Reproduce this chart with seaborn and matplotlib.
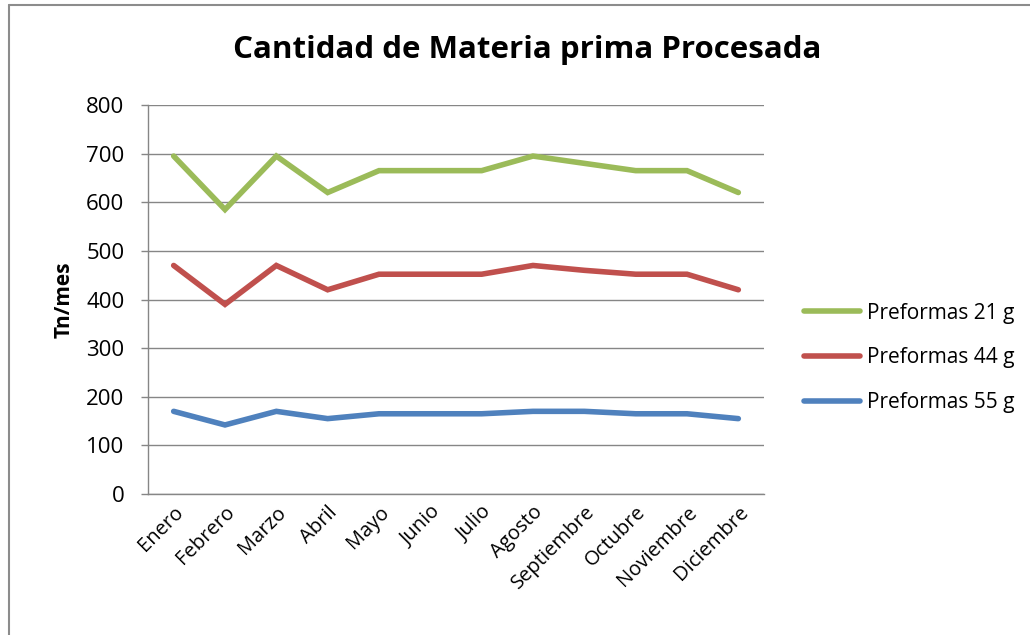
import matplotlib
matplotlib.use("Agg")
import matplotlib.pyplot as plt
import seaborn as sns
import pandas as pd
from matplotlib.lines import Line2D

meses = ["Enero", "Febrero", "Marzo", "Abril", "Mayo", "Junio", "Julio",
         "Agosto", "Septiembre", "Octubre", "Noviembre", "Diciembre"]
pref_21 = [695, 585, 695, 620, 665, 665, 665, 695, 680, 665, 665, 620]
pref_44 = [470, 390, 470, 420, 452, 452, 452, 470, 460, 452, 452, 420]
pref_55 = [170, 142, 170, 155, 165, 165, 165, 170, 170, 165, 165, 155]
series = ["Preformas 21 g", "Preformas 44 g", "Preformas 55 g"]
colores = ["#9BBB59", "#C0504D", "#4F81BD"]
y_ticks = [0, 100, 200, 300, 400, 500, 600, 700, 800]

df = pd.DataFrame({"Mes": meses, series[0]: pref_21,
                   series[1]: pref_44, series[2]: pref_55})
largo = df.melt(id_vars="Mes", var_name="Serie", value_name="Valor")
largo["pos"] = largo["Mes"].map({m: i for i, m in enumerate(meses)})

sns.set_style("white")
plt.rcParams["font.family"] = ["Open Sans", "DejaVu Sans"]
plt.rcParams["text.color"] = "black"
plt.rcParams["axes.labelcolor"] = "black"
plt.rcParams["xtick.color"] = "black"
plt.rcParams["ytick.color"] = "black"

fig = plt.figure(figsize=(10.30, 6.35), dpi=100)
ax = fig.add_axes([148 / 1030, 1 - 494 / 635, (764 - 148) / 1030, (494 - 105) / 635])

sns.lineplot(data=largo, x="pos", y="Valor", hue="Serie", hue_order=series,
             palette=colores, linewidth=4, ax=ax, legend=False,
             solid_capstyle="round", solid_joinstyle="miter", sort=False)

ax.set_xlim(-0.5, len(meses) - 0.5)
ax.set_ylim(0, 800)
ax.set_yticks(y_ticks)
ax.set_yticklabels([str(v) for v in y_ticks], fontsize=16)
ax.set_xticks(range(len(meses)))
ax.set_xticklabels(meses, rotation=45, ha="right", rotation_mode="anchor", fontsize=14.5)
ax.tick_params(axis="x", length=0, pad=6)
ax.tick_params(axis="y", length=5, width=1, color="#868686", direction="out", pad=12, left=True)
ax.grid(axis="y", color="#868686", linewidth=1)
ax.set_axisbelow(True)
for s in ["top", "right"]:
    ax.spines[s].set_visible(False)
for s in ["left", "bottom"]:
    ax.spines[s].set_color("#868686")
    ax.spines[s].set_linewidth(1)
ax.set_xlabel("")
ax.set_ylabel("Tn/mes", fontsize=15, fontweight="bold", labelpad=8)

fig.suptitle("Cantidad de Materia prima Procesada", x=527 / 1030, y=1 - 50 / 635,
             va="center", fontsize=22.5, fontweight="bold")

handles = [Line2D([0], [0], color=c, linewidth=4, solid_capstyle="round") for c in colores]
fig.legend(handles, series, loc="center left", bbox_to_anchor=(785 / 1030, 1 - 358 / 635),
           frameon=False, fontsize=15, handlelength=2.7, labelspacing=1.15, handletextpad=0.35)

# outer chart frame (top and left edges)
fig.add_artist(Line2D([9 / 1030, 1], [1 - 5 / 635, 1 - 5 / 635], color="#8C8C8C", linewidth=1.5))
fig.add_artist(Line2D([9 / 1030, 9 / 1030], [0, 1 - 5 / 635], color="#8C8C8C", linewidth=1.5))

fig.savefig("out.png", dpi=100)
